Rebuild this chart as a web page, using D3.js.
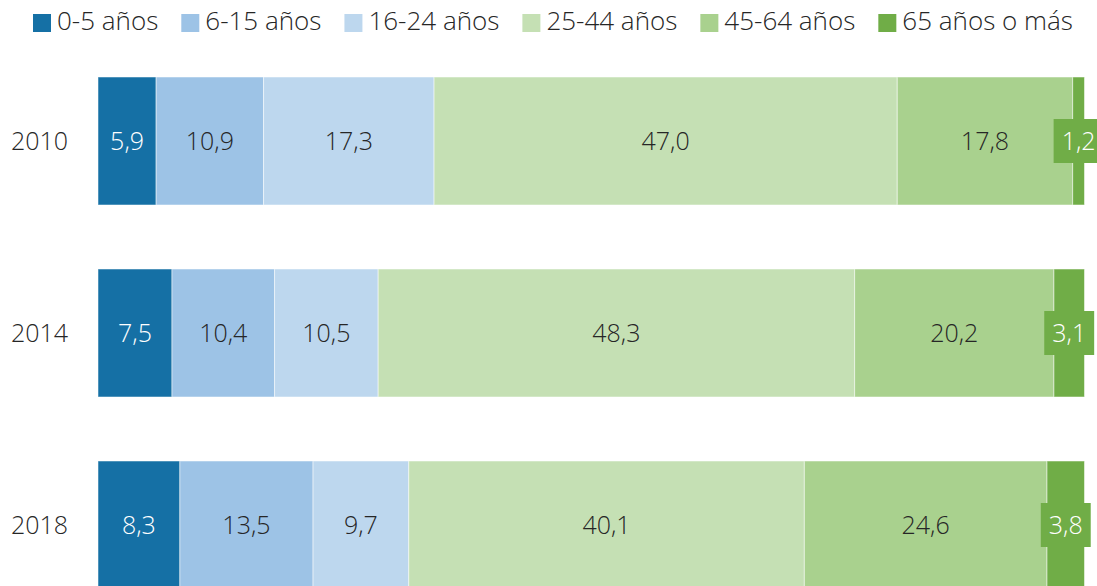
<!DOCTYPE html>
<html>
<head>
<meta charset="utf-8">
<script src="https://cdn.jsdelivr.net/npm/d3@7"></script>
<style>
  body { margin: 0; background: #fff; }
  svg text { font-family: "Open Sans", sans-serif; font-weight: 300; }
</style>
</head>
<body>
<div id="chart"></div>
<script>
// chart data
let years = ["2010", "2014", "2018"];
let groups = ["0-5 años", "6-15 años", "16-24 años", "25-44 años", "45-64 años", "65 años o más"];
let colors = ["#1570a5", "#9dc3e6", "#bdd7ee", "#c5e0b4", "#a9d18e", "#70ad47"];
let textColors = ["#ffffff", "#262626", "#262626", "#262626", "#262626", "#ffffff"];
let values2010 = [5.9, 10.9, 17.3, 47.0, 17.8, 1.2];
let values2014 = [7.5, 10.4, 10.5, 48.3, 20.2, 3.1];
let values2018 = [8.3, 13.5, 9.7, 40.1, 24.6, 3.8];
let allValues = [values2010, values2014, values2018];

let width = 1097, height = 586;
let margin = { left: 98, right: 12.5 };

let svg = d3.select("#chart").append("svg")
    .attr("width", width)
    .attr("height", height);

// y scale for the years
let y = d3.scaleBand()
    .domain(years)
    .range([45, 621])
    .paddingInner(1 / 3)
    .paddingOuter(1 / 6);

// Legend
let legend = svg.append("g").attr("class", "legend");
let lx = 33;
groups.forEach(function (g, i) {
    let item = legend.append("g").attr("transform", "translate(" + lx + ",0)");
    item.append("rect")
        .attr("x", 0).attr("y", 14)
        .attr("width", 18).attr("height", 18)
        .attr("fill", colors[i]);
    let t = item.append("text")
        .attr("x", 24).attr("y", 30)
        .attr("font-size", 26)
        .attr("fill", "#262626")
        .text(g);
    lx += 24 + t.node().getComputedTextLength() + 23;
});

// Bars
years.forEach(function (yr, r) {
    let vals = allValues[r];
    let total = d3.sum(vals);
    let x = d3.scaleLinear().domain([0, total]).range([margin.left, width - margin.right]);

    let segs = [];
    let acc = 0;
    vals.forEach(function (v, i) {
        segs.push({ i: i, v: v, x0: acc, x1: acc + v });
        acc += v;
    });

    let row = svg.append("g").attr("class", "row");

    row.selectAll("rect.seg")
        .data(segs)
        .enter().append("rect")
        .attr("class", "seg")
        .attr("x", d => x(d.x0))
        .attr("y", y(yr))
        .attr("width", d => x(d.x1) - x(d.x0))
        .attr("height", y.bandwidth())
        .attr("fill", d => colors[d.i])
        .attr("stroke", "#fff")
        .attr("stroke-opacity", 0.5)
        .attr("stroke-width", 1);

    let cy = y(yr) + y.bandwidth() / 2;

    segs.forEach(function (d) {
        let cx = (x(d.x0) + x(d.x1)) / 2;
        let label = d3.format(".1f")(d.v).replace(".", ",");
        let g = row.append("g");
        let t = g.append("text")
            .attr("x", cx)
            .attr("y", cy)
            .attr("dy", "0.36em")
            .attr("text-anchor", "middle")
            .attr("font-size", 25)
            .attr("fill", textColors[d.i])
            .text(label);
        // small last segment gets a label box
        if (d.i === groups.length - 1) {
            let w = t.node().getComputedTextLength() + 16;
            g.insert("rect", "text")
                .attr("x", cx - w / 2)
                .attr("y", cy - 22)
                .attr("width", w)
                .attr("height", 44)
                .attr("fill", colors[d.i]);
        }
    });

    // year label
    svg.append("text")
        .attr("x", 68)
        .attr("y", cy)
        .attr("dy", "0.36em")
        .attr("text-anchor", "end")
        .attr("font-size", 25)
        .attr("fill", "#262626")
        .text(yr);
});
</script>
</body>
</html>
